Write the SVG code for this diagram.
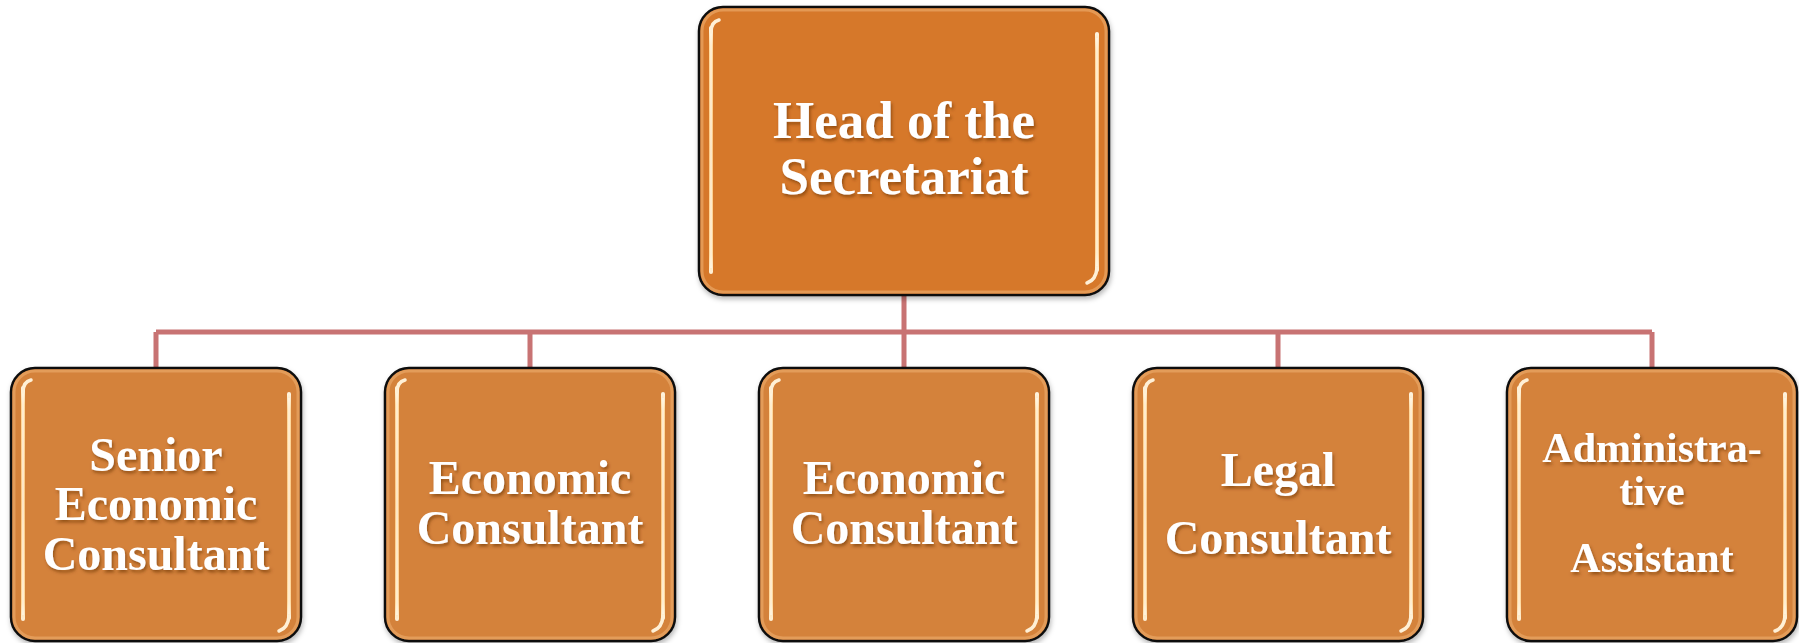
<svg xmlns="http://www.w3.org/2000/svg" width="1799" height="643" viewBox="0 0 1799 643">
  <defs>
    <linearGradient id="hl" x1="0" y1="0" x2="0" y2="1">
      <stop offset="0" stop-color="#fff6e4"/>
      <stop offset="0.08" stop-color="#ffd99e"/>
      <stop offset="0.5" stop-color="#fbc986"/>
      <stop offset="0.92" stop-color="#ffd99e"/>
      <stop offset="1" stop-color="#fff1d8"/>
    </linearGradient>
    <filter id="bs" x="-5%" y="-5%" width="110%" height="115%">
      <feDropShadow dx="1" dy="3" stdDeviation="2.5" flood-color="#000" flood-opacity="0.28"/>
    </filter>
    <filter id="ts" x="-10%" y="-20%" width="120%" height="150%">
      <feDropShadow dx="1.5" dy="2.5" stdDeviation="1.8" flood-color="#6a3000" flood-opacity="0.6"/>
    </filter>
  </defs>
  <style>
    .conn { stroke: #c87373; stroke-width: 5; fill: none; }
    .box { stroke: #111; stroke-width: 2.5; }
    .top { fill: #d6782c; }
    .sub { fill: #d4823b; }
    .glow { fill: none; stroke: #e9a767; stroke-width: 3; opacity: 0.7; }
    .hl { fill: url(#hl); }
    .hlc { fill: none; stroke: #fff0d6; stroke-width: 3.5; stroke-linecap: round; }
    .core { fill: #fffaf0; opacity: 0.85; }
    .t { font-family: "Liberation Serif", "Times New Roman", serif; font-weight: bold; fill: #ffffff; text-anchor: middle; }
  </style>
  <rect width="1799" height="643" fill="#ffffff"/>

  <g id="connectors">
    <path class="conn" d="M904,295 V332 M156,332 H1652 M156,332 V368 M530,332 V368 M904,332 V368 M1278,332 V368 M1652,332 V368"/>
  </g>

  <g id="head">
    <rect class="box top" x="699" y="7" width="410" height="288" rx="24" filter="url(#bs)"/>
    <rect class="glow" x="702" y="10" width="404" height="282" rx="21"/>
    <rect class="hl" x="709" y="26" width="4" height="248" rx="2"/>
    <rect class="core" x="710.3" y="32" width="1.4" height="236"/>
    <path class="hlc" d="M711,32 Q711,22 719,20"/>
    <rect class="hl" x="1095" y="32" width="4" height="240" rx="2"/>
    <rect class="core" x="1096.3" y="38" width="1.4" height="228"/>
    <path class="hlc" d="M1097,268 Q1096,280 1087,283"/>
    <g filter="url(#ts)">
      <text class="t" x="904" y="138" font-size="53">Head of the</text>
      <text class="t" x="904" y="194" font-size="53">Secretariat</text>
    </g>
  </g>

  <g id="senior-economic-consultant">
    <rect class="box sub" x="11" y="368" width="290" height="273" rx="24" filter="url(#bs)"/>
    <rect class="glow" x="14" y="371" width="284" height="267" rx="21"/>
    <rect class="hl" x="21" y="386" width="4" height="235" rx="2"/>
    <rect class="core" x="22.3" y="392" width="1.4" height="223"/>
    <path class="hlc" d="M23,392 Q23,382 31,380"/>
    <rect class="hl" x="287" y="392" width="4" height="228" rx="2"/>
    <rect class="core" x="288.3" y="398" width="1.4" height="216"/>
    <path class="hlc" d="M289,616 Q288,628 279,631"/>
    <g filter="url(#ts)">
      <text class="t" x="156" y="471" font-size="48">Senior</text>
      <text class="t" x="156" y="520" font-size="48">Economic</text>
      <text class="t" x="156" y="570" font-size="48">Consultant</text>
    </g>
  </g>

  <g id="economic-consultant-1">
    <rect class="box sub" x="385" y="368" width="290" height="273" rx="24" filter="url(#bs)"/>
    <rect class="glow" x="388" y="371" width="284" height="267" rx="21"/>
    <rect class="hl" x="395" y="386" width="4" height="235" rx="2"/>
    <rect class="core" x="396.3" y="392" width="1.4" height="223"/>
    <path class="hlc" d="M397,392 Q397,382 405,380"/>
    <rect class="hl" x="661" y="392" width="4" height="228" rx="2"/>
    <rect class="core" x="662.3" y="398" width="1.4" height="216"/>
    <path class="hlc" d="M663,616 Q662,628 653,631"/>
    <g filter="url(#ts)">
      <text class="t" x="530" y="494" font-size="48">Economic</text>
      <text class="t" x="530" y="544" font-size="48">Consultant</text>
    </g>
  </g>

  <g id="economic-consultant-2">
    <rect class="box sub" x="759" y="368" width="290" height="273" rx="24" filter="url(#bs)"/>
    <rect class="glow" x="762" y="371" width="284" height="267" rx="21"/>
    <rect class="hl" x="769" y="386" width="4" height="235" rx="2"/>
    <rect class="core" x="770.3" y="392" width="1.4" height="223"/>
    <path class="hlc" d="M771,392 Q771,382 779,380"/>
    <rect class="hl" x="1035" y="392" width="4" height="228" rx="2"/>
    <rect class="core" x="1036.3" y="398" width="1.4" height="216"/>
    <path class="hlc" d="M1037,616 Q1036,628 1027,631"/>
    <g filter="url(#ts)">
      <text class="t" x="904" y="494" font-size="48">Economic</text>
      <text class="t" x="904" y="544" font-size="48">Consultant</text>
    </g>
  </g>

  <g id="legal-consultant">
    <rect class="box sub" x="1133" y="368" width="290" height="273" rx="24" filter="url(#bs)"/>
    <rect class="glow" x="1136" y="371" width="284" height="267" rx="21"/>
    <rect class="hl" x="1143" y="386" width="4" height="235" rx="2"/>
    <rect class="core" x="1144.3" y="392" width="1.4" height="223"/>
    <path class="hlc" d="M1145,392 Q1145,382 1153,380"/>
    <rect class="hl" x="1409" y="392" width="4" height="228" rx="2"/>
    <rect class="core" x="1410.3" y="398" width="1.4" height="216"/>
    <path class="hlc" d="M1411,616 Q1410,628 1401,631"/>
    <g filter="url(#ts)">
      <text class="t" x="1278" y="486" font-size="48">Legal</text>
      <text class="t" x="1278" y="554" font-size="48">Consultant</text>
    </g>
  </g>

  <g id="administrative-assistant">
    <rect class="box sub" x="1507" y="368" width="290" height="273" rx="24" filter="url(#bs)"/>
    <rect class="glow" x="1510" y="371" width="284" height="267" rx="21"/>
    <rect class="hl" x="1517" y="386" width="4" height="235" rx="2"/>
    <rect class="core" x="1518.3" y="392" width="1.4" height="223"/>
    <path class="hlc" d="M1519,392 Q1519,382 1527,380"/>
    <rect class="hl" x="1783" y="392" width="4" height="228" rx="2"/>
    <rect class="core" x="1784.3" y="398" width="1.4" height="216"/>
    <path class="hlc" d="M1785,616 Q1784,628 1775,631"/>
    <g filter="url(#ts)">
      <text class="t" x="1652" y="462" font-size="42">Administra-</text>
      <text class="t" x="1652" y="505" font-size="42">tive</text>
      <text class="t" x="1652" y="572" font-size="42">Assistant</text>
    </g>
  </g>
</svg>
